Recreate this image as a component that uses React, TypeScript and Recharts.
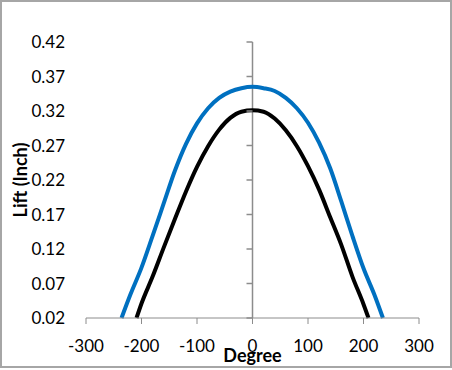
import {
  Line,
  LineChart,
  ReferenceDot,
  ReferenceLine,
  XAxis,
  YAxis,
} from "recharts";

const blueDeg = [
  -236, -220, -200, -180, -160, -140, -120, -100, -80, -60, -40, -20, 0, 20,
  40, 60, 80, 100, 120, 140, 160, 180, 200, 220, 235,
];
const blueLift = [
  0.02, 0.054, 0.093, 0.139, 0.186, 0.233, 0.272, 0.302, 0.324, 0.339, 0.348,
  0.353, 0.355, 0.353, 0.349, 0.339, 0.324, 0.303, 0.274, 0.237, 0.189, 0.139,
  0.092, 0.053, 0.02,
];

const blackDeg = [
  -209, -200, -180, -160, -140, -120, -100, -80, -60, -40, -20, 0, 20, 40, 60,
  80, 100, 120, 140, 160, 180, 200, 209,
];
const blackLift = [
  0.02, 0.041, 0.08, 0.122, 0.163, 0.203, 0.239, 0.269, 0.293, 0.31, 0.319,
  0.321, 0.319, 0.309, 0.292, 0.269, 0.24, 0.206, 0.166, 0.126, 0.08, 0.04,
  0.02,
];

const xTicks = [-300, -200, -100, 0, 100, 200, 300];
const yTicks = [0.02, 0.07, 0.12, 0.17, 0.22, 0.27, 0.32, 0.37, 0.42];

const blueData = blueDeg.map((deg, i) => ({ deg, lift: blueLift[i] }));
const blackData = blackDeg.map((deg, i) => ({ deg, lift: blackLift[i] }));

const axisGray = "#8c8c8c";
const tickStyle = { fill: "#000", fontSize: 17 };

export default function App() {
  return (
    <div
      style={{
        position: "absolute",
        left: 0,
        top: 0,
        width: 452,
        height: 370,
        background: "#fff",
        fontFamily: "Lato, sans-serif",
      }}
    >
      <LineChart
        width={452}
        height={370}
        margin={{ top: 42, right: 33, left: 0, bottom: 0 }}
      >
        <XAxis
          dataKey="deg"
          type="number"
          domain={[-300, 300]}
          ticks={xTicks}
          allowDuplicatedCategory={false}
          stroke={axisGray}
          tick={tickStyle}
          tickSize={6}
          tickMargin={16}
          height={52}
          label={({ viewBox }: any) => (
            <text
              x={viewBox.x + viewBox.width / 2}
              y={viewBox.y + 44}
              textAnchor="middle"
              fontWeight="bold"
              fontSize={18}
              fill="#000"
            >
              Degree
            </text>
          )}
        />
        <YAxis
          type="number"
          domain={[0.02, 0.42]}
          ticks={yTicks}
          width={86}
          axisLine={false}
          tickLine={false}
          tickSize={0}
          tickMargin={21}
          tick={tickStyle}
          tickFormatter={(v) => v.toFixed(2)}
          label={({ viewBox }: any) => {
            const x = viewBox.x + 20;
            const y = viewBox.y + viewBox.height / 2;
            return (
              <text
                x={x}
                y={y}
                transform={`rotate(-90, ${x}, ${y})`}
                textAnchor="middle"
                dominantBaseline="central"
                fontWeight="bold"
                fontSize={18}
                fill="#000"
              >
                Lift (Inch)
              </text>
            );
          }}
        />
        <ReferenceLine x={0} stroke={axisGray} strokeWidth={1.5} />
        {yTicks.map((t) => (
          <ReferenceDot
            key={t}
            x={0}
            y={t}
            shape={(p: any) => (
              <line
                x1={p.cx - 6}
                y1={p.cy}
                x2={p.cx}
                y2={p.cy}
                stroke={axisGray}
                strokeWidth={1.5}
              />
            )}
          />
        ))}
        <Line
          data={blackData}
          dataKey="lift"
          type="monotone"
          stroke="#000"
          strokeWidth={4}
          dot={false}
          isAnimationActive={false}
        />
        <Line
          data={blueData}
          dataKey="lift"
          type="monotone"
          stroke="#0070c0"
          strokeWidth={4}
          dot={false}
          isAnimationActive={false}
        />
      </LineChart>
      <div
        style={{
          position: "absolute",
          left: 0,
          top: 0,
          width: 452,
          height: 368,
          boxSizing: "border-box",
          border: "2px solid #a6a6a6",
          pointerEvents: "none",
        }}
      />
    </div>
  );
}
